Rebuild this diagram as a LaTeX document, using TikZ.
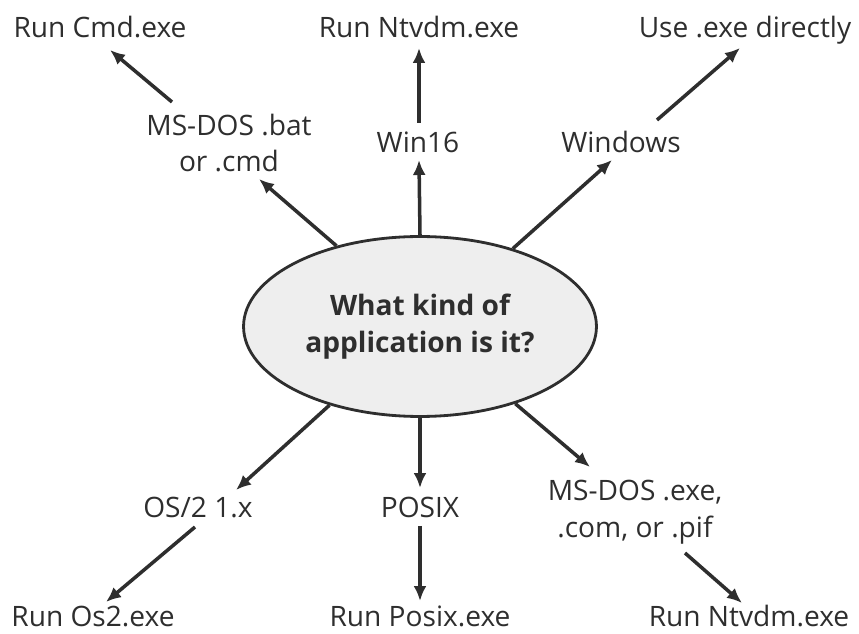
\documentclass[tikz,border=0pt]{standalone}
\usepackage{fontspec}
\setmainfont{Open Sans}
\usetikzlibrary{shapes.geometric, arrows.meta, positioning}
\definecolor{inkgray}{HTML}{2E2E2E}
\definecolor{bubble}{HTML}{EEEEEE}
\tikzstyle{question} = [ellipse, 
draw=inkgray, 
fill=bubble, 
line width=1.6pt, 
minimum width=7.06cm, 
minimum height=3.6cm, 
inner sep=0pt, 
align=center, 
text=inkgray, 
font=\bfseries\fontsize{16pt}{21pt}\selectfont]
\tikzstyle{choice} = [align=center, 
inner sep=1pt, 
text=inkgray, 
font=\fontsize{16pt}{21pt}\selectfont]
\tikzstyle{arrow} = [draw=inkgray, line width=2pt, -{Latex[length=0.3cm,width=0.26cm]}]
\begin{document}
\begin{tikzpicture}[x=0.02cm, y=-0.02cm]
        \useasboundingbox (0,0) rectangle (859,634);

        % --- Nodos ---
        \node (app) [question] at (420,326.5) {What kind of\\application is it?};

        \node (msbat) [choice] at (229,143) {MS-DOS .bat\\or .cmd};
        \node (win16) [choice, anchor=base] at (418,153) {Win16};
        \node (windows) [choice, anchor=base] at (621,153) {Windows};

        \node (cmdexe) [choice, anchor=base] at (100,38) {Run Cmd.exe};
        \node (ntvdmtop) [choice, anchor=base] at (419,38) {Run Ntvdm.exe};
        \node (useexe) [choice, anchor=base] at (745,38) {Use .exe directly};

        \node (os2) [choice, anchor=base] at (198,518) {OS/2 1.x};
        \node (posix) [choice, anchor=base] at (420,518) {POSIX};
        \node (msexe) [choice] at (635,512) {MS-DOS .exe,\\.com, or .pif};

        \node (runos2) [choice, anchor=base] at (93,626) {Run Os2.exe};
        \node (runposix) [choice, anchor=base] at (420,626) {Run Posix.exe};
        \node (ntvdmbot) [choice, anchor=base] at (749,626) {Run Ntvdm.exe};

        % --- Conexiones ---
        \draw [arrow] (app.136) -- ([shift={(30,36)}]msbat.center);
        \draw [arrow] (app.90) -- ([shift={(1,7)}]win16.base);
        \draw [arrow] (app.40.5) -- ([shift={(-9,7)}]windows.base);
        \draw [arrow] (app.221) -- ([shift={(38,-28)}]os2.base);
        \draw [arrow] (app.270) -- ([shift={(0,-30)}]posix.base);
        \draw [arrow] (app.321) -- ([shift={(-45,-45)}]msexe.center);

        \draw [arrow] ([shift={(-57,-41)}]msbat.center) -- ([shift={(10,12)}]cmdexe.base);
        \draw [arrow] ([shift={(1,-30)}]win16.base) -- ([shift={(0,10)}]ntvdmtop.base);
        \draw [arrow] ([shift={(36,-33)}]windows.base) -- ([shift={(-5,10)}]useexe.base);
        \draw [arrow] ([shift={(-3,9)}]os2.base) -- ([shift={(13,-24)}]runos2.base);
        \draw [arrow] ([shift={(0,8)}]posix.base) -- ([shift={(0,-25)}]runposix.base);
        \draw [arrow] ([shift={(50,41)}]msexe.center) -- ([shift={(-7,-23)}]ntvdmbot.base);

    \end{tikzpicture}
\end{document}
